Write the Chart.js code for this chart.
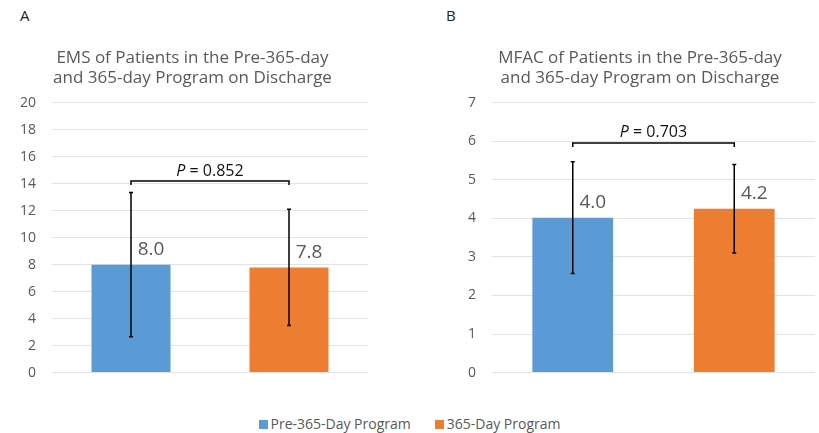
<!DOCTYPE html>
<html lang="en">
<head>
  <meta charset="UTF-8" />
  <title>EMS and MFAC on Discharge</title>
  <script src="https://cdn.jsdelivr.net/npm/chart.js"></script>
  <style>
    body { margin: 0; background: #fff; font-family: "Open Sans", sans-serif; }
    .wrap { position: relative; width: 819px; height: 433px; overflow: hidden; }
    .panel { position: absolute; top: 0; height: 397px; }
    .panel-letter { position: absolute; top: 5px; font-size: 15px; color: #222; }
    .legend { position: absolute; top: 414px; left: 0; width: 819px; text-align: center;
              font-size: 14px; color: #595959; }
    .legend span { display: inline-block; margin: 0 12px; }
    .legend i { display: inline-block; width: 9px; height: 9px; margin-right: 3px; vertical-align: 0px; }
  </style>
</head>
<body>
  <div class="wrap">
    <div class="panel-letter" style="left: 20px;">A</div>
    <div class="panel-letter" style="left: 446px;">B</div>
    <div class="panel" style="left: 0; width: 410px;"><canvas id="emsChart"></canvas></div>
    <div class="panel" style="left: 410px; width: 409px;"><canvas id="mfacChart"></canvas></div>
    <div class="legend" id="legend"></div>
  </div>

  <script>
    // data
    const groups = ['Pre-365-Day Program', '365-Day Program'];
    const groupColors = ['#5B9BD5', '#ED7D31'];

    const emsMeans = [8.0, 7.8];
    const emsErrors = [5.35, 4.3];
    const emsLabels = ['8.0', '7.8'];
    const emsTicks = [0, 2, 4, 6, 8, 10, 12, 14, 16, 18, 20];
    const emsP = '0.852';
    const emsBracketAt = 14.2;

    const mfacMeans = [4.02, 4.25];
    const mfacErrors = [1.45, 1.15];
    const mfacLabels = ['4.0', '4.2'];
    const mfacTicks = [0, 1, 2, 3, 4, 5, 6, 7];
    const mfacP = '0.703';
    const mfacBracketAt = 5.96;

    const textColor = '#595959';
    const fontFamily = '"Open Sans", sans-serif';

    // error bars, value labels and the p-value bracket
    const extrasPlugin = {
      id: 'extras',
      afterDatasetsDraw(chart, args, opts) {
        const ctx = chart.ctx;
        const x = chart.scales.x;
        const y = chart.scales.y;
        ctx.save();
        ctx.strokeStyle = '#000';
        ctx.lineWidth = 1.5;
        opts.means.forEach((m, i) => {
          const cx = x.getPixelForValue(i);
          const top = y.getPixelForValue(m + opts.errors[i]);
          const bot = y.getPixelForValue(m - opts.errors[i]);
          ctx.beginPath();
          ctx.moveTo(cx, top); ctx.lineTo(cx, bot);
          ctx.moveTo(cx - 2, top); ctx.lineTo(cx + 2, top);
          ctx.moveTo(cx - 2, bot); ctx.lineTo(cx + 2, bot);
          ctx.stroke();

          ctx.fillStyle = textColor;
          ctx.font = '19px ' + fontFamily;
          ctx.textAlign = 'center';
          ctx.textBaseline = 'middle';
          ctx.fillText(opts.labels[i], cx + 20, y.getPixelForValue(m) - 15);
        });

        // bracket
        const x0 = x.getPixelForValue(0);
        const x1 = x.getPixelForValue(1);
        const by = y.getPixelForValue(opts.bracketAt);
        ctx.beginPath();
        ctx.moveTo(x0, by + 4); ctx.lineTo(x0, by);
        ctx.lineTo(x1, by); ctx.lineTo(x1, by + 4);
        ctx.stroke();

        // italic P then the value
        const mid = (x0 + x1) / 2;
        ctx.fillStyle = '#111';
        ctx.textBaseline = 'bottom';
        ctx.textAlign = 'left';
        ctx.font = 'italic 16px ' + fontFamily;
        const pW = ctx.measureText('P').width;
        ctx.font = '16px ' + fontFamily;
        const rest = ' = ' + opts.p;
        const rW = ctx.measureText(rest).width;
        const sx = mid - (pW + rW) / 2;
        ctx.font = 'italic 16px ' + fontFamily;
        ctx.fillText('P', sx, by - 2);
        ctx.font = '16px ' + fontFamily;
        ctx.fillText(rest, sx + pW, by - 2);
        ctx.restore();
      }
    };

    function makeChart(id, means, errors, labels, ticks, p, bracketAt, title, padding, axisWidth) {
      return new Chart(document.getElementById(id), {
        type: 'bar',
        data: {
          labels: groups,
          datasets: [{
            data: means,
            backgroundColor: groupColors,
            borderWidth: 0,
            categoryPercentage: 1,
            barPercentage: 0.5
          }]
        },
        options: {
          responsive: true,
          maintainAspectRatio: false,
          animation: false,
          layout: { padding: padding },
          plugins: {
            legend: { display: false },
            tooltip: { enabled: false },
            title: {
              display: true,
              text: title,
              color: textColor,
              font: { family: fontFamily, size: 17, weight: 'normal', lineHeight: 1.2 },
              padding: { top: 0, bottom: 14 }
            },
            extras: { means: means, errors: errors, labels: labels, p: p, bracketAt: bracketAt }
          },
          scales: {
            x: {
              ticks: { display: false },
              grid: { display: false },
              border: { display: false }
            },
            y: {
              min: ticks[0],
              max: ticks[ticks.length - 1],
              afterBuildTicks(axis) { axis.ticks = ticks.map(v => ({ value: v })); },
              afterFit(axis) { axis.width = axisWidth; },
              ticks: { color: textColor, font: { family: fontFamily, size: 14 }, padding: 16 },
              grid: { color: '#E3E3E3', drawTicks: false },
              border: { display: false }
            }
          }
        },
        plugins: [extrasPlugin]
      });
    }

    makeChart('emsChart', emsMeans, emsErrors, emsLabels, emsTicks, emsP, emsBracketAt,
      ['EMS of Patients in the Pre-365-day', 'and 365-day Program on Discharge'],
      { top: 48, left: 17, right: 42, bottom: 8 }, 35);
    makeChart('mfacChart', mfacMeans, mfacErrors, mfacLabels, mfacTicks, mfacP, mfacBracketAt,
      ['MFAC of Patients in the Pre-365-day', 'and 365-day Program on Discharge'],
      { top: 48, left: 55, right: 4, bottom: 8 }, 27);

    const legend = document.getElementById('legend');
    groups.forEach((g, i) => {
      const item = document.createElement('span');
      item.innerHTML = '<i style="background:' + groupColors[i] + '"></i>' + g;
      legend.appendChild(item);
    });
  </script>
</body>
</html>
